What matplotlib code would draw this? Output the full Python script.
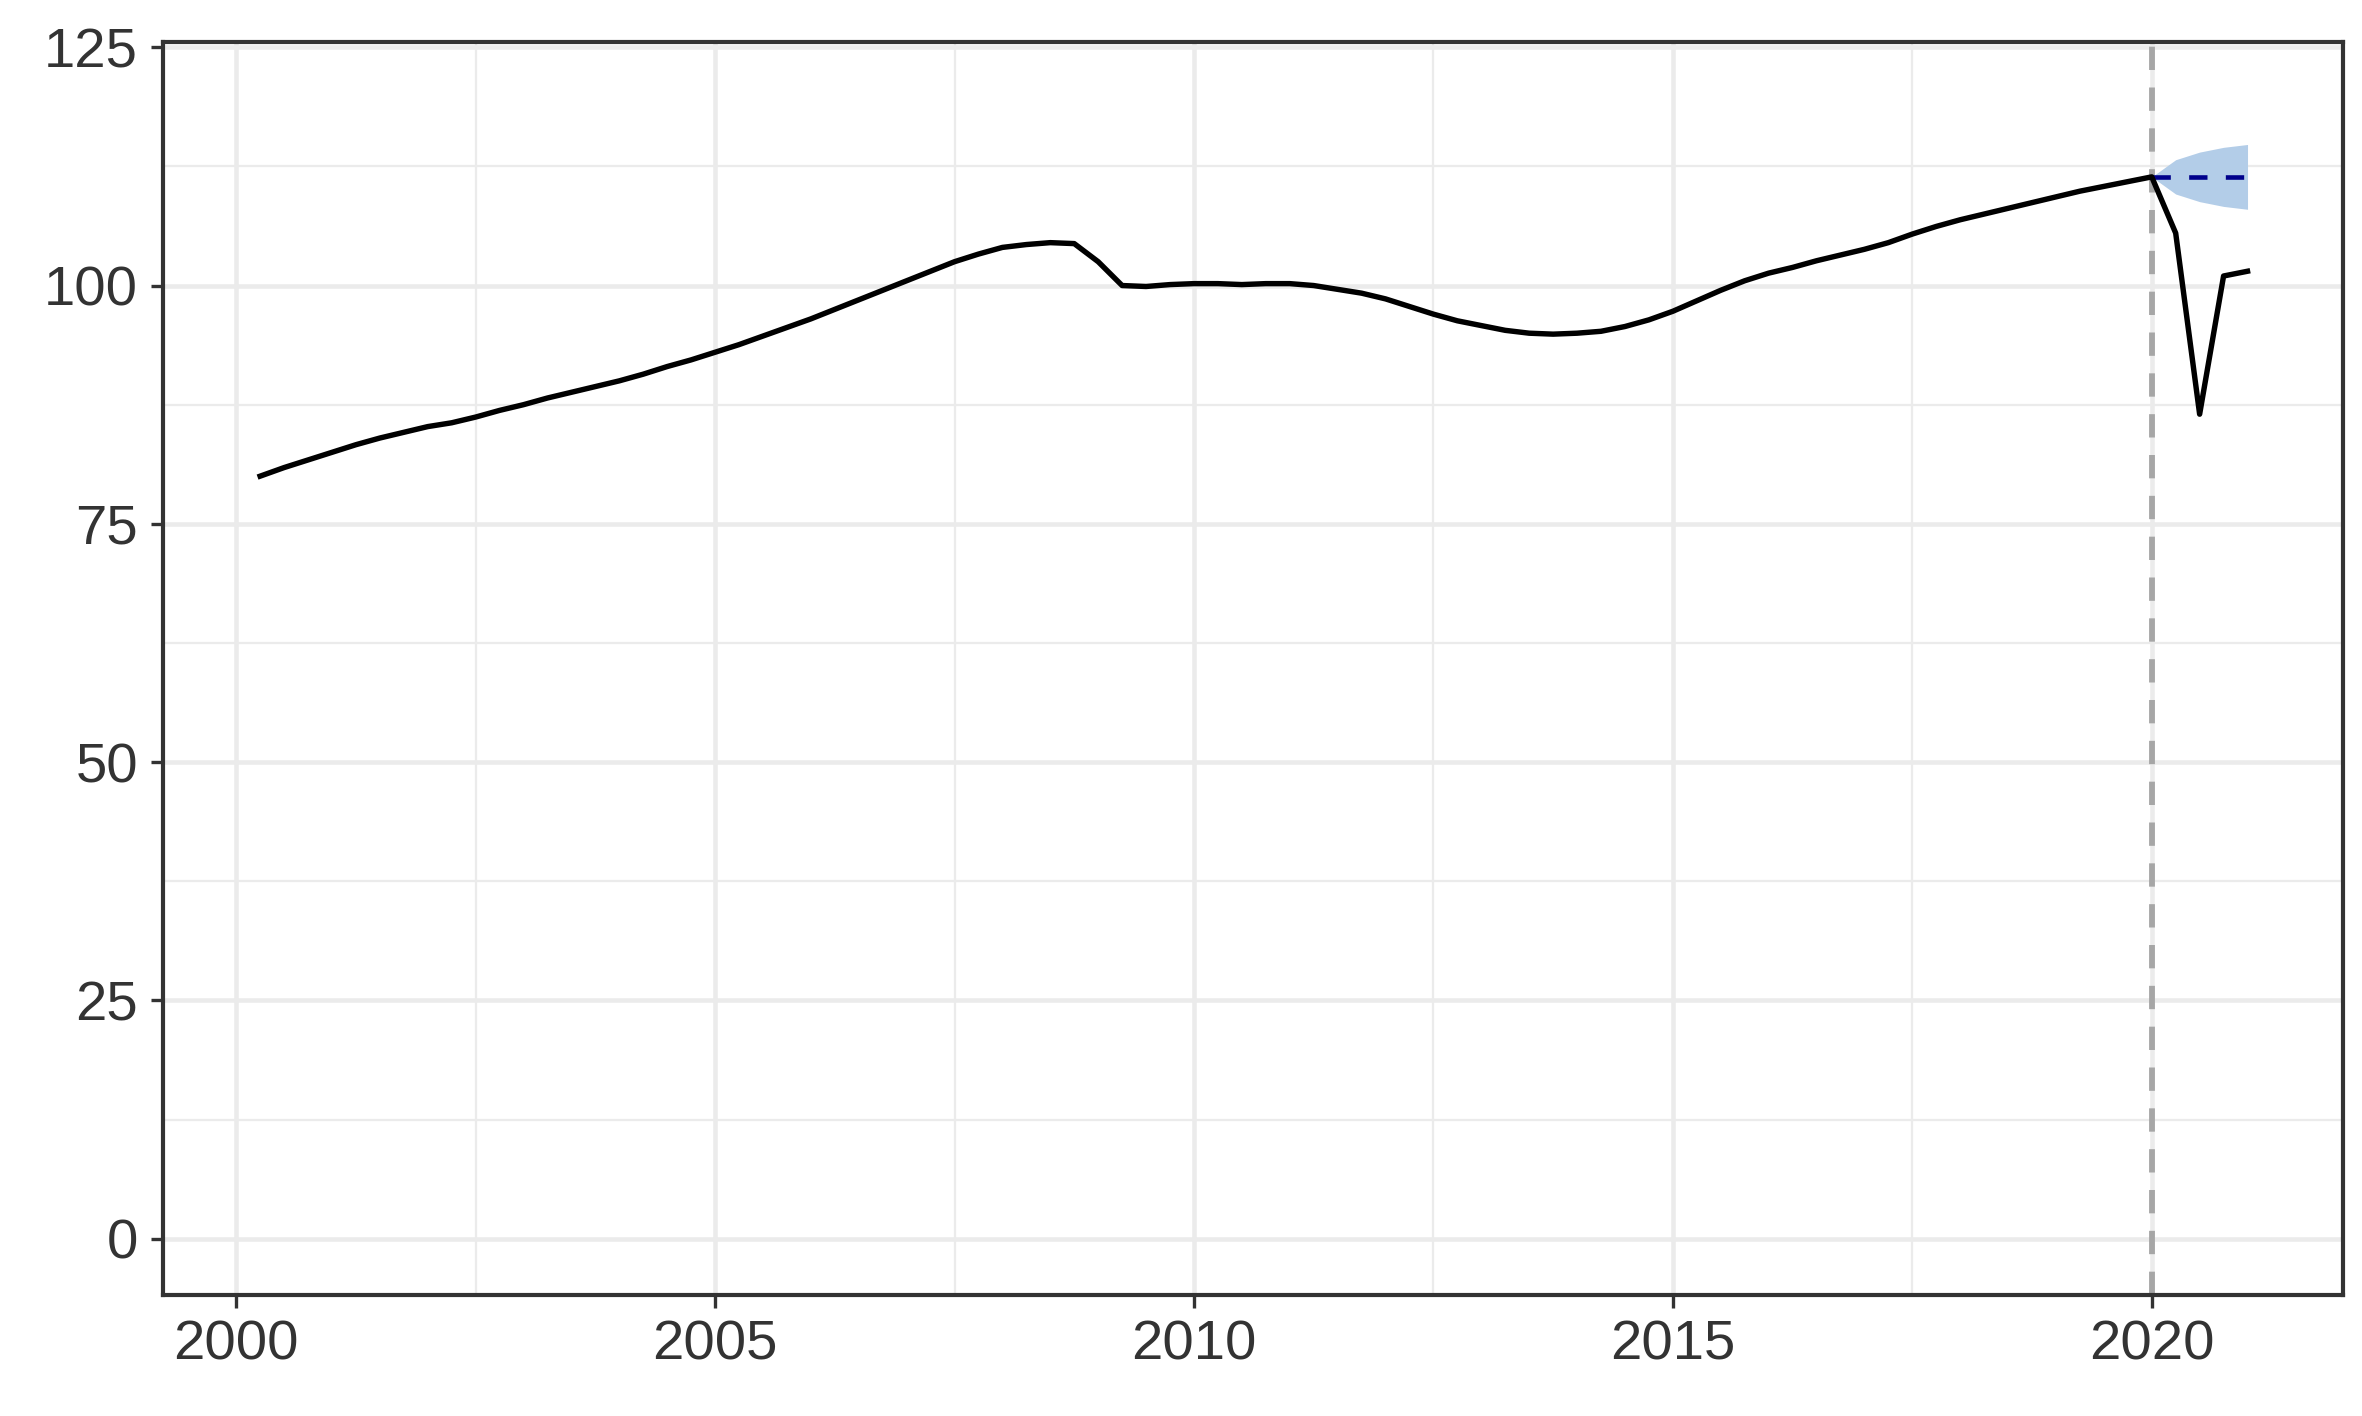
import numpy as np
import matplotlib.pyplot as plt
from matplotlib.ticker import MultipleLocator

plt.rcParams["font.family"] = ["Liberation Sans", "DejaVu Sans"]

# quarterly index, 2000Q2 .. 2021Q1
start_year = 2000.25
values = [
    80.0, 80.9, 81.7,
    82.5, 83.3, 84.0, 84.6,
    85.2, 85.6, 86.2, 86.9,
    87.5, 88.2, 88.8, 89.4,
    90.0, 90.7, 91.5, 92.2,
    93.0, 93.8, 94.7, 95.6,
    96.5, 97.5, 98.5, 99.5,
    100.5, 101.5, 102.5, 103.3,
    104.0, 104.3, 104.5, 104.4,
    102.5, 100.0, 99.9, 100.1,
    100.2, 100.2, 100.1, 100.2,
    100.2, 100.0, 99.6, 99.2,
    98.6, 97.8, 97.0, 96.3,
    95.8, 95.3, 95.0, 94.9,
    95.0, 95.2, 95.7, 96.4,
    97.3, 98.4, 99.5, 100.5,
    101.3, 101.9, 102.6, 103.2,
    103.8, 104.5, 105.4, 106.2,
    106.9, 107.5, 108.1, 108.7,
    109.3, 109.9, 110.4, 110.9,
    111.4, 105.5, 86.5, 101.0,
    101.5,
]
years = start_year + 0.25 * np.arange(len(values))

fc_years = [2020.0, 2020.25, 2020.5, 2020.75, 2021.0]
fc_mean = [111.4, 111.4, 111.4, 111.4, 111.4]
fc_low = [111.4, 109.6, 108.8, 108.3, 108.0]
fc_high = [111.4, 113.2, 114.0, 114.5, 114.8]
break_year = 2020.0

fig = plt.figure(figsize=(7.874, 4.72), dpi=300)
ax = fig.add_axes([0.069, 0.0855, 0.923, 0.8845])

ax.fill_between(fc_years, fc_low, fc_high, color="#b3cde8", linewidth=0)
ax.plot(fc_years, fc_mean, color="#00008b", linewidth=1.1, linestyle=(0, (4, 4)))
ax.axvline(break_year, color="#a6a6a6", linewidth=1.4, linestyle=(0, (4, 3)), zorder=1)
ax.plot(years, values, color="black", linewidth=1.3, zorder=3)

ax.set_xlim(1999.236, 2022.0)
ax.set_ylim(-5.9, 125.5)
ax.xaxis.set_major_locator(MultipleLocator(5))
ax.xaxis.set_minor_locator(MultipleLocator(2.5))
ax.yaxis.set_major_locator(MultipleLocator(25))
ax.yaxis.set_minor_locator(MultipleLocator(12.5))
ax.grid(which="major", color="#ebebeb", linewidth=1.1)
ax.grid(which="minor", color="#ebebeb", linewidth=0.55)
ax.set_axisbelow(True)
ax.tick_params(which="major", length=3, width=0.8, color="#333333", labelcolor="#333333", labelsize=13.5, pad=3)
ax.tick_params(which="minor", length=0)
for s in ax.spines.values():
    s.set_color("#333333")
    s.set_linewidth(1.0)

fig.savefig("out.png", dpi=300)
